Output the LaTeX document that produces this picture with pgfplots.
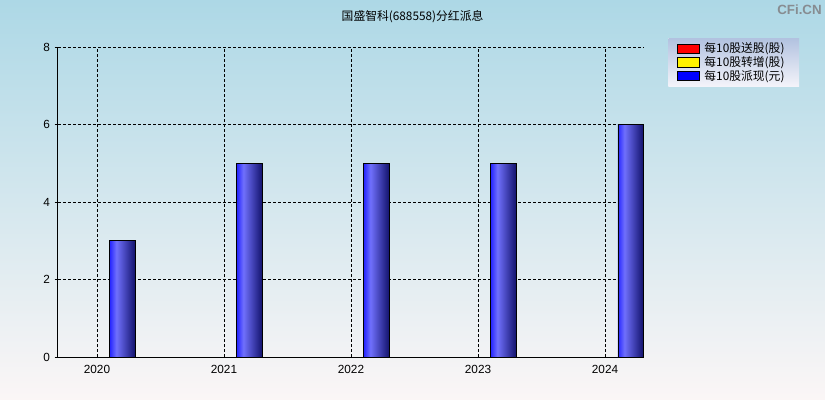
\documentclass[border=0pt]{standalone}
\usepackage{fontspec}
\setmainfont{Liberation Sans}
\newfontfamily\cjk{Noto Sans CJK SC}
\usepackage{pgfplots}
\pgfplotsset{compat=1.18}
\definecolor{bgtop}{RGB}{173,216,230}
\definecolor{bgbot}{RGB}{251,246,246}
\definecolor{legtop}{RGB}{178,194,224}
\definecolor{legbot}{RGB}{244,244,250}
\definecolor{barL}{RGB}{40,40,255}
\definecolor{barM}{RGB}{112,112,252}
\definecolor{barR}{RGB}{20,20,110}
\definecolor{wm}{RGB}{135,140,145}
\pgfdeclarehorizontalshading{barshade}{100bp}{color(0bp)=(barL); color(25bp)=(barL);
    color(38bp)=(barM); color(75bp)=(barR); color(100bp)=(barR)}

\begin{document}
\begin{tikzpicture}
    % background
    \shade[top color=bgtop, bottom color=bgbot] (0,0) rectangle (618.75pt,300pt);
    \useasboundingbox (0,0) rectangle (618.75pt,300pt);
    \node[font=\cjk\fontsize{8.85}{10}\selectfont] at (309.4pt,287.25pt) {国盛智科(688558)分红派息};
    \node[text=wm, inner sep=0pt, font=\bfseries\fontsize{10}{12}\selectfont, anchor=east] at (616.5pt,293pt) {CFi.CN};

    \begin{axis}[
        at={(43.5pt,32.25pt)}, anchor=south west,
        scale only axis, width=439.5pt, height=232.5pt,
        xmin=-0.307, xmax=4.307, ymin=0, ymax=8,
        xtick={0,1,2,3,4},
        xticklabels={2020,2021,2022,2023,2024},
        ytick={0,2,4,6,8},
        /pgf/number format/assume math mode=true,
        axis x line*=bottom, axis y line*=left,
        axis line style={-, black, line width=0.75pt},
        grid=major,
        grid style={black, line width=0.6pt, dash pattern=on 2.25pt off 1.5pt},
        xtick style={draw=none},
        ytick style={black, line width=0.6pt},
        major tick length=2.5pt, tick align=outside,
        tick label style={font=\fontsize{8.85}{10}\selectfont, black},
        legend style={at={(1.041,1.029)}, anchor=north west, draw=none,
            top color=legtop, bottom color=legbot,
            font=\cjk\fontsize{8.85}{10.5}\selectfont,
            inner xsep=6.5pt, inner ysep=1.2pt, row sep=-2.6pt, column sep=1.5pt},
        legend cell align=left,
        legend image code/.code={\draw[#1, draw=black, line width=0.6pt] (0pt,-3.4pt) rectangle (16.5pt,3.4pt);},
        divbar/.style={ybar, bar width=0.197, bar shift=0, draw=black, line width=0.6pt,
            shading=barshade, shading angle=0, forget plot},
    ]
        \addplot[divbar] coordinates {(0.2,3)};
        \addplot[divbar] coordinates {(1.2,5)};
        \addplot[divbar] coordinates {(2.2,5)};
        \addplot[divbar] coordinates {(3.2,5)};
        \addplot[divbar] coordinates {(4.2,6)};
        \addlegendimage{fill=red}
        \addlegendentry{每10股送股(股)\kern2.5pt}
        \addlegendimage{fill=yellow}
        \addlegendentry{每10股转增(股)\kern2.5pt}
        \addlegendimage{fill=blue}
        \addlegendentry{每10股派现(元)\kern2.5pt}
    \end{axis}
\end{tikzpicture}
\end{document}
